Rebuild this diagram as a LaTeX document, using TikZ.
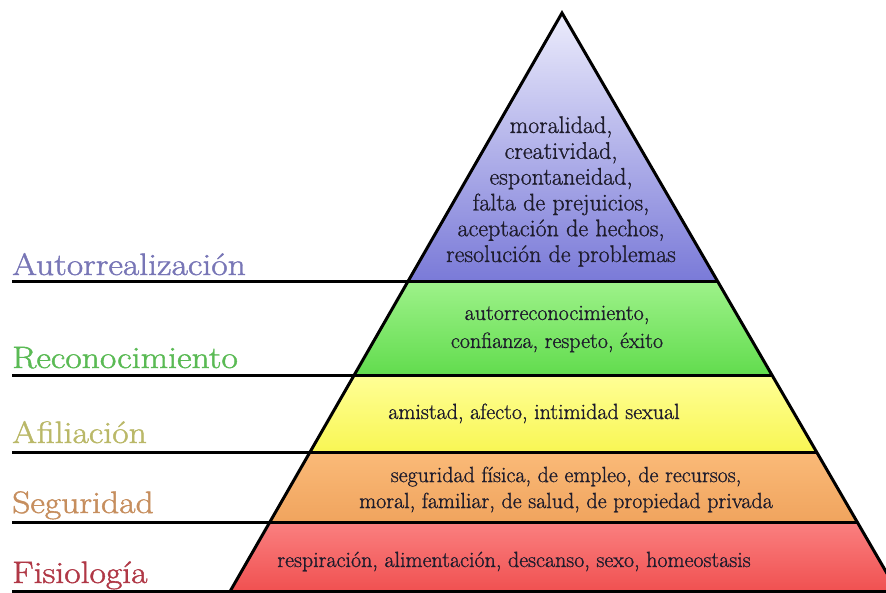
\documentclass[tikz,border=0pt]{standalone}
\usepackage{fontspec}
\newfontfamily\stufefont{Latin Modern Roman}[FakeStretch=1.15, FakeBold=1.4]
\newfontfamily\inhaltfont{Latin Modern Roman}[FakeBold=1.0]
\definecolor{autoC}{RGB}{120,118,182}
\definecolor{recoC}{RGB}{90,186,84}
\definecolor{afilC}{RGB}{186,184,104}
\definecolor{seguC}{RGB}{198,142,94}
\definecolor{fisiC}{RGB}{176,56,70}
\definecolor{inhaltC}{RGB}{30,28,44}

\begin{document}
\begin{tikzpicture}[x=1pt, y=-1pt,
			stufe/.style={font=\stufefont\fontsize{31}{36}\selectfont, anchor=base west, inner sep=0pt},
			inhalt/.style={font=\inhaltfont\fontsize{22}{25.8}\selectfont, align=center, text=inhaltC, inner sep=0pt},
			kante/.style={line width=3pt}]
			% picture frame
			\useasboundingbox (0,0) rectangle (886,592);
			% fill the layers
			\shade[top color={rgb,255:red,236;green,236;blue,252}, bottom color={rgb,255:red,122;green,122;blue,216}]
				(562,13) -- (408.2,281) -- (717.4,281) -- cycle;
			\shade[top color={rgb,255:red,158;green,242;blue,138}, bottom color={rgb,255:red,98;green,220;blue,78}]
				(408.2,281) -- (354.2,375) -- (772,375) -- (717.4,281) -- cycle;
			\shade[top color={rgb,255:red,255;green,255;blue,150}, bottom color={rgb,255:red,248;green,246;blue,84}]
				(354.2,375) -- (310,452) -- (816.6,452) -- (772,375) -- cycle;
			\shade[top color={rgb,255:red,250;green,186;blue,120}, bottom color={rgb,255:red,240;green,164;blue,94}]
				(310,452) -- (269.8,522) -- (857.2,522) -- (816.6,452) -- cycle;
			\shade[top color={rgb,255:red,250;green,128;blue,128}, bottom color={rgb,255:red,240;green,80;blue,80}]
				(269.8,522) -- (229.7,592) -- (897.8,592) -- (857.2,522) -- cycle;
			% dividing lines
			\foreach \y/\xr in {281/717.4, 375/772, 452/816.6, 522/857.2, 591/897.8}
				\draw[kante] (12,\y) -- (\xr,\y);
			% sides of the pyramid
			\draw[kante, line join=miter] (229.7,592) -- (562,13) -- (897.8,592);
			% level names
			\node (autoLbl) [stufe, text=autoC] at (12,275) {Autorrealización};
			\node (recoLbl) [stufe, text=recoC] at (12,368) {Reconocimiento};
			\node (afilLbl) [stufe, text=afilC] at (12,443) {Afiliación};
			\node (seguLbl) [stufe, text=seguC] at (12,513) {Seguridad};
			\node (fisiLbl) [stufe, text=fisiC] at (12,583) {Fisiología};
			% contents of the levels
			\node (autoTxt) [inhalt, font=\inhaltfont\fontsize{24}{25.8}\selectfont] at (561,191.5) {moralidad,\\creatividad,\\espontaneidad,\\falta de prejuicios,\\aceptación de hechos,\\resolución de problemas};
			\node (recoTxt) [inhalt, font=\inhaltfont\fontsize{22}{28}\selectfont] at (557,329) {autorreconocimiento,\\confianza, respeto, éxito};
			\node (afilTxt) [inhalt, anchor=base] at (534,419) {amistad, afecto, intimidad sexual};
			\node (seguTxt) [inhalt, font=\inhaltfont\fontsize{22}{26}\selectfont] at (566,489.5) {seguridad física, de empleo, de recursos,\\moral, familiar, de salud, de propiedad privada};
			\node (fisiTxt) [inhalt, anchor=base] at (514,567) {respiración, alimentación, descanso, sexo, homeostasis};
		\end{tikzpicture}
\end{document}
